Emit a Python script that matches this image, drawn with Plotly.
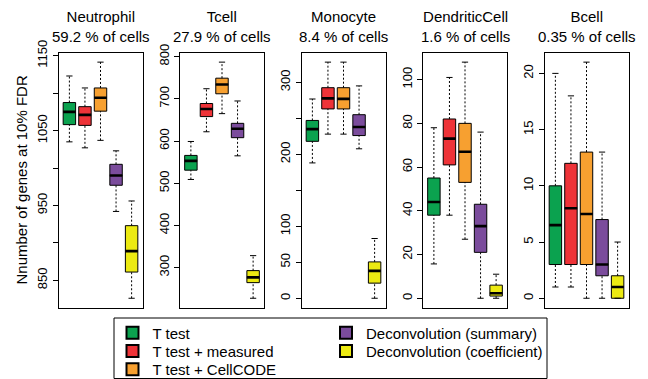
import plotly.graph_objects as go

# ---------------- data ----------------
CELL_TYPES = ["Neutrophil", "Tcell", "Monocyte", "DendriticCell", "Bcell"]
CELL_PCT = ["59.2 % of cells", "27.9 % of cells", "8.4 % of cells", "1.6 % of cells", "0.35 % of cells"]
METHODS = ["T test", "T test + measured", "T test + CellCODE",
           "Deconvolution (summary)", "Deconvolution (coefficient)"]
COLORS = ["#0ba24f", "#ee3338", "#f7a030", "#7b4c9c", "#ecea12"]

# per panel, per method (box statistics)
WHISKER_LOW = [[1035, 1027, 1037, 942, 826],
               [509, 622, 665, 565, 227.5],
               [188, 228, 228, 207.6, 0],
               [15.7, 38, 27, 0, 0],
               [1, 1, 0, 0, 0]]
Q1 = [[1058, 1057, 1076, 977, 861],
      [531, 658, 712, 608, 264.5],
      [218, 263, 263, 226, 21],
      [38, 61, 53, 21, 1],
      [3, 3, 3, 2, 0]]
MEDIAN = [[1075, 1071, 1094, 990, 889],
          [553, 676, 734, 629, 277],
          [235, 277.6, 277, 238, 38],
          [44, 73, 67, 33, 2.3],
          [6.5, 8, 7.5, 3, 1]]
Q3 = [[1087.5, 1082, 1107, 1005, 923],
      [566, 689, 749, 642, 293],
      [247, 292.5, 292.5, 255, 50.5],
      [55, 82, 80, 43, 6],
      [10, 12, 13, 7, 2]]
WHISKER_HIGH = [[1123, 1107, 1141.5, 1023, 956],
                [599, 724, 787, 695, 328.5],
                [276.8, 328, 328, 295, 83],
                [78, 101, 108, 76, 11],
                [20, 18, 21, 13, 5]]

TICK_VALUES = [[850, 900, 950, 1000, 1050, 1100, 1150],
               [300, 400, 500, 600, 700, 800],
               [0, 50, 100, 150, 200, 250, 300],
               [0, 20, 40, 60, 80, 100],
               [0, 5, 10, 15, 20]]
TICK_LABELS = [["850", "", "950", "", "1050", "", "1150"],
               ["300", "400", "500", "600", "700", "800"],
               ["0", "50", "100", "", "200", "", "300"],
               ["0", "20", "40", "60", "80", "100"],
               ["0", "5", "10", "15", "20"]]

Y_LABEL = "Nnumber of genes at 10% FDR"

# ---------------- layout constants ----------------
W, H = 648, 379
FONT = "Liberation Sans, Arial, Helvetica, sans-serif"
PANEL_LEFT0 = 58.5
PANEL_STEP = 121.5
PANEL_W = 84
PANEL_TOP = 52.7
PANEL_BOTTOM = 307.7
BOX_W = 0.8
CAP_HALF = 0.2

# legend entry placement (pixels): column x of legend origin, row y centre
LEG_X = [112.5, 112.5, 112.5, 326, 326]
LEG_Y = [333.0, 351.3, 369.6, 333.0, 351.3]

fig = go.Figure()
layout = dict(
    width=W, height=H,
    margin=dict(l=0, r=0, t=0, b=0, autoexpand=False),
    paper_bgcolor="white", plot_bgcolor="white",
    font=dict(family=FONT, color="black", size=13),
    showlegend=True,
)

annotations = []
for p in range(len(CELL_TYPES)):
    ax = "" if p == 0 else str(p + 1)
    xref, yref = "x" + ax, "y" + ax
    left = PANEL_LEFT0 + p * PANEL_STEP
    dom_x = [left / W, (left + PANEL_W) / W]
    dom_y = [1 - PANEL_BOTTOM / H, 1 - PANEL_TOP / H]

    lo_all = min(WHISKER_LOW[p])
    hi_all = max(WHISKER_HIGH[p])
    pad = 0.04 * (hi_all - lo_all)
    n = len(METHODS)

    layout["xaxis" + ax] = dict(
        domain=dom_x, range=[0.5 - 0.04 * n, n + 0.5 + 0.04 * n],
        showticklabels=False, ticks="", showgrid=False, zeroline=False,
        showline=True, mirror=True, linecolor="black", linewidth=1,
        anchor=yref, fixedrange=True, automargin=False)
    layout["yaxis" + ax] = dict(
        domain=dom_y, range=[lo_all - pad, hi_all + pad],
        tickvals=TICK_VALUES[p], ticktext=TICK_LABELS[p],
        ticks="outside", ticklen=5, tickwidth=1, tickcolor="black",
        tickangle=-90, tickfont=dict(size=13),
        showgrid=False, zeroline=False,
        showline=True, mirror=True, linecolor="black", linewidth=1,
        anchor=xref, fixedrange=True, automargin=False)

    # whiskers (dashed) and caps
    wx, wy, cx, cy, mx, my = [], [], [], [], [], []
    for m in range(n):
        xpos = m + 1
        wx += [xpos, xpos, None, xpos, xpos, None]
        wy += [WHISKER_LOW[p][m], Q1[p][m], None, Q3[p][m], WHISKER_HIGH[p][m], None]
        cx += [xpos - CAP_HALF, xpos + CAP_HALF, None, xpos - CAP_HALF, xpos + CAP_HALF, None]
        cy += [WHISKER_LOW[p][m], WHISKER_LOW[p][m], None, WHISKER_HIGH[p][m], WHISKER_HIGH[p][m], None]
        mx += [xpos - BOX_W / 2, xpos + BOX_W / 2, None]
        my += [MEDIAN[p][m], MEDIAN[p][m], None]
    fig.add_trace(go.Scatter(x=wx, y=wy, mode="lines", xaxis=xref, yaxis=yref,
                             line=dict(color="black", width=1, dash="2px,2px"),
                             showlegend=False, hoverinfo="skip"))
    fig.add_trace(go.Scatter(x=cx, y=cy, mode="lines", xaxis=xref, yaxis=yref,
                             line=dict(color="black", width=1),
                             showlegend=False, hoverinfo="skip"))
    for m in range(n):
        fig.add_trace(go.Box(
            x=[m + 1], q1=[Q1[p][m]], median=[MEDIAN[p][m]], q3=[Q3[p][m]],
            lowerfence=[Q1[p][m]], upperfence=[Q3[p][m]],
            width=BOX_W, whiskerwidth=0, fillcolor=COLORS[m],
            line=dict(color="black", width=1), xaxis=xref, yaxis=yref,
            showlegend=False, name=METHODS[m]))
    fig.add_trace(go.Scatter(x=mx, y=my, mode="lines", xaxis=xref, yaxis=yref,
                             line=dict(color="black", width=2.6),
                             showlegend=False, hoverinfo="skip"))

    annotations.append(dict(
        text=CELL_TYPES[p] + "<br>" + CELL_PCT[p], xref="paper", yref="paper",
        x=(left + PANEL_W / 2) / W, y=1 - 26.5 / H, xanchor="center", yanchor="middle",
        showarrow=False, font=dict(size=15)))

annotations.append(dict(
    text=Y_LABEL, xref="paper", yref="paper", x=20.5 / W, y=1 - 180 / H,
    xanchor="center", yanchor="middle", textangle=-90, showarrow=False,
    font=dict(size=15)))

# legend entries (square swatches), one legend per entry for exact row spacing
for m in range(len(METHODS)):
    lname = "legend" if m == 0 else "legend%d" % (m + 1)
    fig.add_trace(go.Scatter(
        x=[None], y=[None], mode="markers", name=METHODS[m],
        marker=dict(symbol="square", size=10, color=COLORS[m],
                    line=dict(color="black", width=1)),
        legend=lname, showlegend=True))
    layout[lname] = dict(x=LEG_X[m] / W, y=1 - LEG_Y[m] / H,
                         xanchor="left", yanchor="middle",
                         font=dict(size=15), bgcolor="rgba(0,0,0,0)",
                         borderwidth=0, itemsizing="constant")

layout["shapes"] = [dict(type="rect", xref="paper", yref="paper",
                         x0=114 / W, x1=547 / W, y0=1 - 378.5 / H, y1=1 - 318 / H,
                         line=dict(color="black", width=1), fillcolor="rgba(0,0,0,0)")]
layout["annotations"] = annotations
fig.update_layout(**layout)

fig.write_html("out.html", config={"displayModeBar": False},
               post_script="document.body.style.margin='0';document.body.style.overflow='hidden';")
